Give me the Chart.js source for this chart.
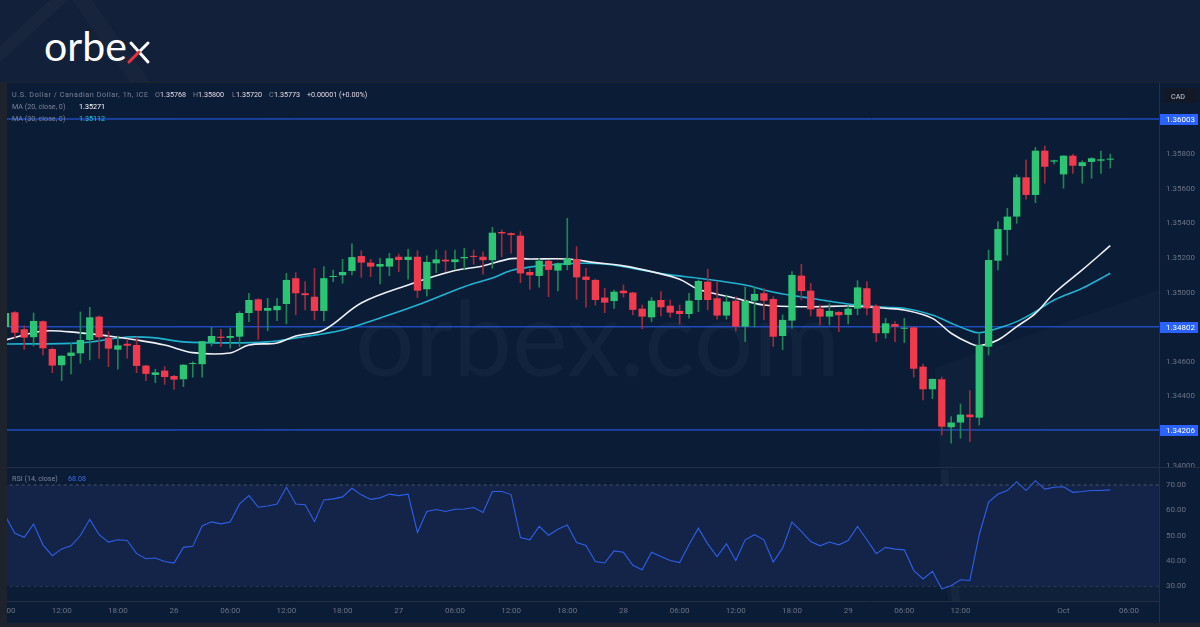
<!DOCTYPE html>
<html>
<head>
<meta charset="utf-8">
<script src="https://cdn.jsdelivr.net/npm/chart.js@4.4.0/dist/chart.umd.min.js"></script>
<style>
	body { margin: 0; width: 1200px; height: 627px; overflow: hidden; background: #132039; font-family: Roboto, sans-serif; }
	#bg, #overlay { position: absolute; left: 0; top: 0; }
	#overlay { pointer-events: none; }
	#priceChart { position: absolute; left: 7px; top: 83px; }
	#rsiChart { position: absolute; left: 7px; top: 467px; }
	.sep { position: absolute; background: #262f42; }
</style>
</head>
<body>

<svg id="bg" width="1200" height="627">
	<!-- orbex frame -->
	<polygon points="0,46 50,0 68,0 0,62" fill="#ffffff" fill-opacity="0.025"/>
	<polygon points="72,0 92,0 150,82 130,82" fill="#ffffff" fill-opacity="0.02"/>
	<rect x="0" y="82" width="1200" height="545" fill="#1e222d"/>
	<rect x="7" y="83" width="1193" height="540" fill="#0a1c36"/>
	<polygon points="935,368 1159,290 1159,601 948,601" fill="#ffffff" fill-opacity="0.025"/>
	<polygon points="940,470 948,470 960,601 952,601" fill="#ffffff" fill-opacity="0.03"/>
	<!-- logo -->
	<text x="44" y="61" font-family="Lato" font-size="41" fill="#ffffff">orbe</text>
	<line x1="131" y1="43" x2="148" y2="62" stroke="#ffffff" stroke-width="3" stroke-linecap="round"/>
	<line x1="139" y1="52" x2="148" y2="43" stroke="#ffffff" stroke-width="3" stroke-linecap="round"/>
	<line x1="129" y1="62" x2="139" y2="52" stroke="#e8323f" stroke-width="3" stroke-linecap="round"/>
	<!-- watermark -->
	<text x="355" y="376" font-family="Lato" font-size="104" fill="#ffffff" fill-opacity="0.035" textLength="485" lengthAdjust="spacingAndGlyphs">orbex.com</text>
</svg>

<canvas id="priceChart" width="1193" height="384"></canvas>
<canvas id="rsiChart" width="1193" height="156"></canvas>
<div class="sep" style="left:7px; top:467px; width:1193px; height:1px;"></div>
<div class="sep" style="left:1159px; top:83px; width:1px; height:540px;"></div>

<svg id="overlay" width="1200" height="627" font-family="Roboto" font-size="7.2">
	<text x="12" y="97" fill="#7c8497" textLength="136">U.S. Dollar / Canadian Dollar, 1h, ICE</text>
	<text x="155" y="97" fill="#7c8497">O</text><text x="160" y="97" fill="#e4d6e2">1.35768</text>
	<text x="193" y="97" fill="#7c8497">H</text><text x="198" y="97" fill="#e4d6e2">1.35800</text>
	<text x="232" y="97" fill="#7c8497">L</text><text x="236" y="97" fill="#e4d6e2">1.35720</text>
	<text x="269" y="97" fill="#7c8497">C</text><text x="274" y="97" fill="#e4d6e2">1.35773</text>
	<text x="307" y="97" fill="#e4d6e2">+0.00001 (+0.00%)</text>
	<text x="12" y="109" fill="#7c8497">MA (20, close, 0)</text><text x="79" y="109" fill="#ffffff">1.35271</text>
	<text x="12" y="121" fill="#7c8497">MA (30, close, 0)</text><text x="79" y="121" fill="#26c6da">1.35112</text>
	<rect x="1163" y="88" width="34" height="15" rx="2" fill="#121826"/>
	<text x="1171" y="98.5" fill="#c9ccd4">CAD</text>
	<text x="12" y="481" fill="#7c8497">RSI (14, close)</text><text x="68" y="481" fill="#3d6df2">68.08</text>
</svg>

<script>
// hourly USD/CAD candles, bar 0 = 25 Sep 06:00
let openPrices = [1.34801,1.34886,1.34788,1.34742,1.34834,1.34674,1.34580,1.34634,1.34649,1.34726,
	1.34861,1.34739,1.34670,1.34704,1.34697,1.34578,1.34524,1.34549,1.34518,1.34499,
	1.34587,1.34586,1.34709,1.34745,1.34738,1.34745,1.34882,1.34961,1.34895,1.34898,
	1.34934,1.35083,1.34996,1.34976,1.34894,1.35090,1.35100,1.35125,1.35211,1.35173,
	1.35150,1.35150,1.35207,1.35188,1.35207,1.35019,1.35169,1.35190,1.35176,1.35198,
	1.35212,1.35207,1.35187,1.35350,1.35343,1.35329,1.35119,1.35096,1.35183,1.35127,
	1.35159,1.35194,1.35092,1.35073,1.34971,1.34951,1.35011,1.35000,1.34907,1.34857,
	1.34957,1.34924,1.34894,1.34876,1.34957,1.35063,1.34967,1.34867,1.34953,1.34803,
	1.34953,1.34996,1.34963,1.34749,1.34838,1.35098,1.35011,1.34907,1.34861,1.34888,
	1.34871,1.34907,1.35025,1.34923,1.34765,1.34818,1.34791,1.34799,1.34572,1.34441,
	1.34499,1.34222,1.34249,1.34295,1.34277,1.34687,1.35184,1.35362,1.35439,1.35666,
	1.35564,1.35820,1.35757,1.35683,1.35791,1.35731,1.35755,1.35762,1.35768];
let highPrices = [1.34886,1.34890,1.34809,1.34882,1.34836,1.34680,1.34635,1.34707,1.34888,1.34915,
	1.34865,1.34775,1.34749,1.34730,1.34742,1.34580,1.34557,1.34572,1.34522,1.34583,
	1.34601,1.34719,1.34799,1.34788,1.34795,1.34890,1.34996,1.34965,1.34967,1.34967,
	1.35111,1.35115,1.35063,1.35140,1.35150,1.35130,1.35192,1.35281,1.35242,1.35192,
	1.35198,1.35227,1.35223,1.35250,1.35242,1.35212,1.35246,1.35242,1.35246,1.35256,
	1.35246,1.35236,1.35377,1.35362,1.35345,1.35352,1.35135,1.35196,1.35186,1.35172,
	1.35429,1.35265,1.35140,1.35078,1.35025,1.35015,1.35044,1.35002,1.34928,1.34971,
	1.35005,1.34957,1.34928,1.34996,1.35073,1.35135,1.35063,1.34986,1.34976,1.35031,
	1.35034,1.35025,1.34976,1.34871,1.35121,1.35163,1.35054,1.34928,1.34936,1.34890,
	1.34922,1.35069,1.35063,1.34930,1.34851,1.34832,1.34851,1.34802,1.34587,1.34501,
	1.34511,1.34283,1.34356,1.34433,1.34765,1.35246,1.35410,1.35487,1.35680,1.35766,
	1.35839,1.35847,1.35766,1.35791,1.35799,1.35762,1.35780,1.35818,1.35800];
let lowPrices = [1.34795,1.34738,1.34672,1.34691,1.34639,1.34537,1.34491,1.34530,1.34592,1.34611,
	1.34620,1.34572,1.34557,1.34620,1.34537,1.34491,1.34479,1.34470,1.34441,1.34457,
	1.34511,1.34511,1.34691,1.34688,1.34678,1.34688,1.34832,1.34730,1.34780,1.34838,
	1.34819,1.34871,1.34900,1.34842,1.34836,1.35063,1.35054,1.35102,1.35088,1.35092,
	1.35050,1.35098,1.35121,1.35077,1.34971,1.34980,1.35115,1.35121,1.35135,1.35135,
	1.35163,1.35106,1.35140,1.35207,1.35227,1.35057,1.35019,1.35031,1.34976,1.35009,
	1.35131,1.34961,1.34915,1.34928,1.34884,1.34909,1.34973,1.34871,1.34791,1.34832,
	1.34865,1.34857,1.34817,1.34852,1.34890,1.34900,1.34846,1.34846,1.34778,1.34716,
	1.34801,1.34842,1.34688,1.34670,1.34794,1.34957,1.34865,1.34813,1.34813,1.34774,
	1.34819,1.34871,1.34871,1.34716,1.34736,1.34716,1.34711,1.34511,1.34379,1.34387,
	1.34177,1.34129,1.34158,1.34138,1.34235,1.34639,1.35131,1.35217,1.35400,1.35539,
	1.35519,1.35632,1.35743,1.35603,1.35689,1.35632,1.35660,1.35689,1.35720];
let closePrices = [1.34882,1.34768,1.34740,1.34836,1.34678,1.34578,1.34635,1.34653,1.34726,1.34857,
	1.34742,1.34676,1.34695,1.34693,1.34576,1.34530,1.34539,1.34512,1.34497,1.34583,
	1.34591,1.34719,1.34749,1.34738,1.34749,1.34882,1.34957,1.34895,1.34911,1.34923,
	1.35073,1.34996,1.34985,1.34894,1.35083,1.35096,1.35119,1.35205,1.35173,1.35150,
	1.35165,1.35198,1.35188,1.35207,1.35011,1.35177,1.35192,1.35180,1.35192,1.35206,
	1.35206,1.35187,1.35346,1.35342,1.35333,1.35111,1.35100,1.35184,1.35131,1.35169,
	1.35196,1.35088,1.35073,1.34957,1.34942,1.35005,1.34996,1.34900,1.34861,1.34953,
	1.34915,1.34884,1.34876,1.34953,1.35067,1.34957,1.34867,1.34948,1.34803,1.34951,
	1.34992,1.34953,1.34745,1.34842,1.35102,1.35009,1.34903,1.34861,1.34894,1.34869,
	1.34907,1.35030,1.34909,1.34765,1.34822,1.34803,1.34797,1.34560,1.34441,1.34501,
	1.34225,1.34249,1.34295,1.34280,1.34697,1.35188,1.35367,1.35439,1.35666,1.35564,
	1.35820,1.35727,1.35764,1.35791,1.35733,1.35753,1.35776,1.35770,1.35773];

// moving averages (bar index -> value)
let ma20Bars = [0,4,8,11,14,17,20,24,26,29,31,34,38,43,48,51,54,56,60,63,66,69,72,74,78,81,86,90,94,96,99,101,103,104,106,108,110,112,115,118];
let ma20Values = [1.34726,1.34778,1.34767,1.34749,1.34726,1.34697,1.34653,1.34651,1.34697,1.34709,
	1.34749,1.34784,1.34940,1.35044,1.35127,1.35154,1.35196,1.35194,1.35194,1.35173,
	1.35154,1.35121,1.35077,1.35019,1.34967,1.34928,1.34918,1.34922,1.34909,1.34899,
	1.34851,1.34765,1.34707,1.34693,1.34726,1.34803,1.34880,1.34996,1.35131,1.35271];
let ma30Bars = [0,8,13,16,19,24,28,31,36,40,44,49,52,54,57,61,64,67,71,74,79,81,83,86,90,94,96,99,101,103,104,106,108,110,112,115,118];
let ma30Values = [1.34703,1.34709,1.34743,1.34738,1.34715,1.34709,1.34715,1.34738,1.34784,1.34853,
	1.34928,1.35034,1.35084,1.35127,1.35154,1.35169,1.35165,1.35140,1.35102,1.35083,
	1.35044,1.35015,1.34992,1.34967,1.34934,1.34915,1.34909,1.34871,1.34823,1.34780,
	1.34768,1.34794,1.34832,1.34890,1.34957,1.35025,1.35112];

let rsiValues = [57.5,50.9,49.3,54.5,46.3,42.0,44.7,45.9,50.0,56.4,
	50.3,47.4,48.3,48.0,42.8,40.8,41.1,39.7,39.1,45.3,
	45.7,53.8,55.4,54.6,55.3,62.5,65.8,61.2,61.7,62.5,
	69.1,62.5,62.2,55.5,64.1,64.5,65.3,68.7,66.1,64.3,
	64.9,66.4,65.8,66.4,51.2,59.5,60.3,59.5,60.4,60.5,
	61.1,59.1,67.4,67.4,66.2,49.2,48.3,53.6,50.1,52.5,
	54.2,47.2,46.1,39.7,39.1,43.9,43.4,38.2,36.4,43.4,
	41.7,40.1,39.3,46.3,52.9,46.7,41.7,46.7,40.1,48.3,
	50.3,48.3,39.5,45.0,55.3,51.6,47.6,45.9,47.4,46.3,
	48.0,53.6,48.3,42.8,45.3,44.6,44.3,36.2,32.8,35.8,
	28.9,30.1,32.5,32.2,50.3,63.2,66.4,67.8,71.3,67.8,
	71.7,68.4,69.1,69.3,67.1,67.4,67.8,67.8,68.08];

let levelValues = [1.36003, 1.34802, 1.34206];
let priceTicks = [1.358, 1.356, 1.354, 1.352, 1.350, 1.348, 1.346, 1.344, 1.342, 1.340];
let rsiTicks = [30, 40, 50, 60, 70];
let rsiBands = [70, 50, 30];
let timeTickBars = [0, 6, 12, 18, 24, 30, 36, 42, 48, 54, 60, 66, 72, 78, 84, 90, 96, 102, 113, 120];
let timeTickLabels = ["06:00","12:00","18:00","26","06:00","12:00","18:00","27","06:00","12:00","18:00",
	"28","06:00","12:00","18:00","29","06:00","12:00","Oct","06:00"];

// view window
let xMin = 0.16, xMax = 123.2;
let priceMin = 1.33992, priceMax = 1.36211;
let rsiMin = 24.06, rsiMax = 77.13;

let upColor = "#2bc574", downColor = "#f23a4e";
let upWick = "#1f8552", downWick = "#9e2b3c";
let axisText = "#6c7384";

function isUp(i) {
	return closePrices[i] >= openPrices[i];
}

function pairs(xs, ys) {
	return xs.map((x, i) => ({x: x, y: ys[i]}));
}

function flatLine(v) {
	return [{x: xMin - 1, y: v}, {x: xMax + 1, y: v}];
}

function fitY(scale) {
	scale.width = 41;
	scale.paddingTop = 0;
	scale.paddingBottom = 0;
}

let levelLabels = {
	id: "levelLabels",
	afterDraw(chart) {
		let ctx = chart.ctx;
		let y = chart.scales.y;
		let left = chart.chartArea.right + 1;
		ctx.save();
		ctx.font = "8px Roboto";
		ctx.textBaseline = "middle";
		for (let i=0; i<levelValues.length; i++) {
			let py = Math.round(y.getPixelForValue(levelValues[i]));
			ctx.fillStyle = "#2962ff";
			ctx.fillRect(left, py - 5, 38, 11);
			ctx.fillStyle = "#ffffff";
			ctx.fillText(levelValues[i].toFixed(5), left + 6, py + 0.5);
		}
		ctx.restore();
	}
};

Chart.defaults.font.family = "Roboto";
Chart.defaults.font.size = 8;
Chart.defaults.animation = false;
Chart.defaults.plugins.legend.display = false;
Chart.defaults.plugins.tooltip.enabled = false;

let priceDatasets = [
	{
		type: "bar",
		data: openPrices.map((o, i) => ({x: i, y: [o, closePrices[i]]})),
		backgroundColor: (c) => isUp(c.dataIndex) ? upColor : downColor,
		grouped: false, categoryPercentage: 1, barPercentage: 0.78, minBarLength: 1, borderWidth: 0
	},
	{
		type: "bar",
		data: lowPrices.map((l, i) => ({x: i, y: [l, highPrices[i]]})),
		backgroundColor: (c) => isUp(c.dataIndex) ? upWick : downWick,
		grouped: false, categoryPercentage: 1, barPercentage: 1, maxBarThickness: 1, borderWidth: 0
	},
	{ type: "line", data: pairs(ma20Bars, ma20Values), borderColor: "#eef0f4", borderWidth: 1.6, pointRadius: 0, tension: 0.35 },
	{ type: "line", data: pairs(ma30Bars, ma30Values), borderColor: "#20b3d1", borderWidth: 1.6, pointRadius: 0, tension: 0.35 }
];
for (let i=0; i<levelValues.length; i++) {
	priceDatasets.push({ type: "line", data: flatLine(levelValues[i]), borderColor: "#2962ff", borderWidth: 1, pointRadius: 0 });
}

new Chart(document.getElementById("priceChart"), {
	type: "bar",
	data: { datasets: priceDatasets },
	options: {
		responsive: false,
		events: [],
		layout: { padding: 0 },
		scales: {
			x: { type: "linear", min: xMin, max: xMax, offset: false, display: false },
			y: {
				type: "linear", position: "right", min: priceMin, max: priceMax,
				grid: { display: false, drawTicks: false },
				border: { display: false },
				afterBuildTicks: (s) => { s.ticks = priceTicks.map(v => ({value: v})); },
				afterFit: fitY,
				ticks: { color: axisText, padding: 7, callback: (v) => v.toFixed(5) }
			}
		}
	},
	plugins: [levelLabels]
});

let rsiDatasets = [
	{ data: pairs(rsiValues.map((v, i) => i), rsiValues), borderColor: "#2e5fe6", borderWidth: 1.1, pointRadius: 0 }
];
for (let i=0; i<rsiBands.length; i++) {
	rsiDatasets.push({
		data: flatLine(rsiBands[i]), borderColor: "#4b5466", borderWidth: 1, borderDash: [3, 3], pointRadius: 0,
		fill: i == 0 ? "+2" : false, backgroundColor: "#142448"
	});
}

new Chart(document.getElementById("rsiChart"), {
	type: "line",
	data: { datasets: rsiDatasets },
	options: {
		responsive: false,
		events: [],
		layout: { padding: 0 },
		scales: {
			x: {
				type: "linear", min: xMin, max: xMax, offset: false,
				grid: { display: false, drawTicks: false },
				border: { display: true, color: "#262f42" },
				afterBuildTicks: (s) => { s.ticks = timeTickBars.map(v => ({value: v})); },
				afterFit: (s) => { s.height = 22; s.paddingLeft = 0; s.paddingRight = 0; },
				ticks: { color: axisText, padding: 5, autoSkip: false, maxRotation: 0, callback: (v, i) => timeTickLabels[i] }
			},
			y: {
				type: "linear", position: "right", min: rsiMin, max: rsiMax,
				grid: { display: false, drawTicks: false },
				border: { display: false },
				afterBuildTicks: (s) => { s.ticks = rsiTicks.map(v => ({value: v})); },
				afterFit: fitY,
				ticks: { color: axisText, padding: 7, callback: (v) => v.toFixed(2) }
			}
		}
	}
});
</script>
</body>
</html>
